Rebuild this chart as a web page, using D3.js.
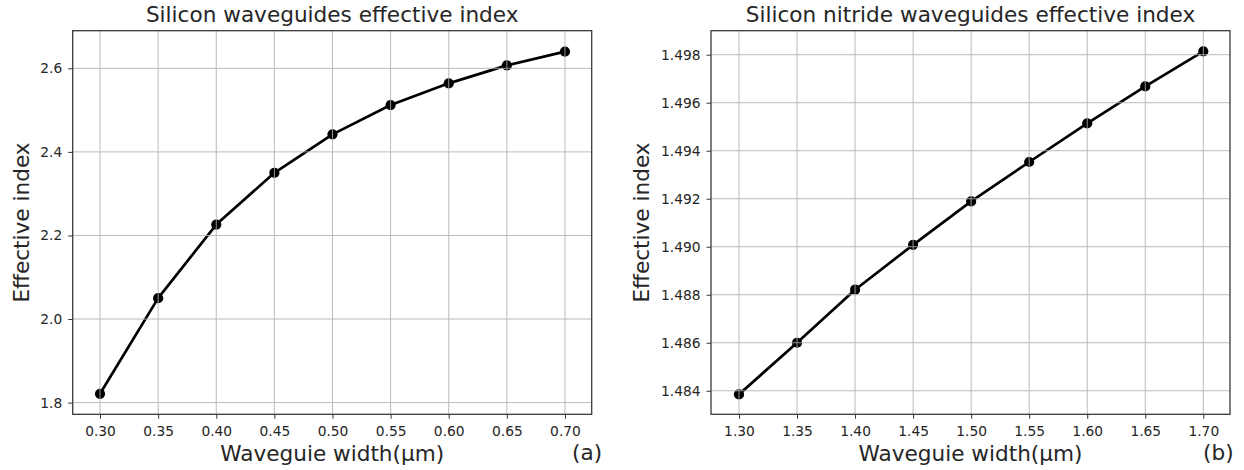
<!DOCTYPE html>
<html>
<head>
<meta charset="utf-8">
<script src="https://cdn.jsdelivr.net/npm/d3@7"></script>
<style>
  html, body { margin: 0; padding: 0; background: #fff; }
  svg { display: block; font-family: "DejaVu Sans", sans-serif; }
</style>
</head>
<body>
<svg id="chart" width="1244" height="470"></svg>
<script>
// Silicon waveguides: width (µm) vs effective index
const siWidths = [0.30, 0.35, 0.40, 0.45, 0.50, 0.55, 0.60, 0.65, 0.70];
const siIndex  = [1.821, 2.050, 2.226, 2.350, 2.442, 2.512, 2.564, 2.607, 2.640];
const siXTicks = [0.30, 0.35, 0.40, 0.45, 0.50, 0.55, 0.60, 0.65, 0.70];
const siYTicks = [1.8, 2.0, 2.2, 2.4, 2.6];

// Silicon nitride waveguides: width (µm) vs effective index
const sinWidths = [1.30, 1.35, 1.40, 1.45, 1.50, 1.55, 1.60, 1.65, 1.70];
const sinIndex  = [1.48385, 1.48600, 1.48821, 1.49008, 1.49189, 1.49353, 1.49514, 1.49668, 1.49814];
const sinXTicks = [1.30, 1.35, 1.40, 1.45, 1.50, 1.55, 1.60, 1.65, 1.70];
const sinYTicks = [1.484, 1.486, 1.488, 1.490, 1.492, 1.494, 1.496, 1.498];

const panels = [
  {
    title: "Silicon waveguides effective index", tag: "(a)",
    x: siWidths, y: siIndex, xTicks: siXTicks, yTicks: siYTicks,
    xDomain: [0.2765, 0.723], yDomain: [1.772, 2.690],
    xFmt: d3.format(".2f"), yFmt: d3.format(".1f"),
    left: 72.7, right: 591.7, ylabelX: 29, tagX: 572
  },
  {
    title: "Silicon nitride waveguides effective index", tag: "(b)",
    x: sinWidths, y: sinIndex, xTicks: sinXTicks, yTicks: sinYTicks,
    xDomain: [1.2759, 1.723], yDomain: [1.48302, 1.49900],
    xFmt: d3.format(".2f"), yFmt: d3.format(".3f"),
    left: 711, right: 1230, ylabelX: 649, tagX: 1203
  }
];

const plotTop = 30.7, plotBottom = 414.3;
const ink = "#262626";
const svg = d3.select("#chart");

panels.forEach(p => {
  const xs = d3.scaleLinear().domain(p.xDomain).range([p.left, p.right]);
  const ys = d3.scaleLinear().domain(p.yDomain).range([plotBottom, plotTop]);
  const g = svg.append("g");
  const pts = p.x.map((v, i) => [v, p.y[i]]);

  // data line + markers
  g.append("path")
    .datum(pts)
    .attr("fill", "none")
    .attr("stroke", "#000")
    .attr("stroke-width", 2.7)
    .attr("stroke-linejoin", "round")
    .attr("d", d3.line().x(d => xs(d[0])).y(d => ys(d[1])));
  g.selectAll("circle.pt").data(pts).enter().append("circle")
    .attr("class", "pt")
    .attr("cx", d => xs(d[0]))
    .attr("cy", d => ys(d[1]))
    .attr("r", 5.1)
    .attr("fill", "#000");

  // grid drawn over the data
  const grid = g.append("g").attr("stroke", "#b0b0b0").attr("stroke-width", 1).attr("opacity", 0.85);
  p.xTicks.forEach(t => grid.append("line")
    .attr("x1", xs(t)).attr("x2", xs(t)).attr("y1", plotTop).attr("y2", plotBottom));
  p.yTicks.forEach(t => grid.append("line")
    .attr("y1", ys(t)).attr("y2", ys(t)).attr("x1", p.left).attr("x2", p.right));

  // axes
  const xAxis = d3.axisBottom(xs).tickValues(p.xTicks).tickFormat(p.xFmt).tickSizeInner(4.5).tickSizeOuter(0).tickPadding(7);
  const yAxis = d3.axisLeft(ys).tickValues(p.yTicks).tickFormat(p.yFmt).tickSizeInner(4.5).tickSizeOuter(0).tickPadding(6);
  const gx = g.append("g").attr("transform", `translate(0,${plotBottom})`).call(xAxis);
  const gy = g.append("g").attr("transform", `translate(${p.left},0)`).call(yAxis);
  [gx, gy].forEach(a => {
    a.select(".domain").remove();
    a.selectAll("line").attr("stroke", "#333").attr("stroke-width", 1);
    a.selectAll("text").attr("font-family", "DejaVu Sans, sans-serif").attr("font-size", 13.8).attr("fill", ink);
  });

  // frame
  g.append("rect")
    .attr("x", p.left).attr("y", plotTop)
    .attr("width", p.right - p.left).attr("height", plotBottom - plotTop)
    .attr("fill", "none").attr("stroke", "#3a3a3a").attr("stroke-width", 1.3);

  // texts
  g.append("text")
    .attr("x", (p.left + p.right) / 2).attr("y", 22)
    .attr("text-anchor", "middle").attr("font-size", 21.6).attr("fill", ink)
    .text(p.title);
  g.append("text")
    .attr("x", (p.left + p.right) / 2).attr("y", 461)
    .attr("text-anchor", "middle").attr("font-size", 21.6).attr("fill", ink)
    .text("Waveguie width(µm)");
  g.append("text")
    .attr("transform", `translate(${p.ylabelX},${(plotTop + plotBottom) / 2}) rotate(-90)`)
    .attr("text-anchor", "middle").attr("font-size", 21.6).attr("fill", ink)
    .text("Effective index");
  g.append("text")
    .attr("x", p.tagX).attr("y", 460)
    .attr("font-size", 21.6).attr("fill", ink)
    .text(p.tag);
});
</script>
</body>
</html>
